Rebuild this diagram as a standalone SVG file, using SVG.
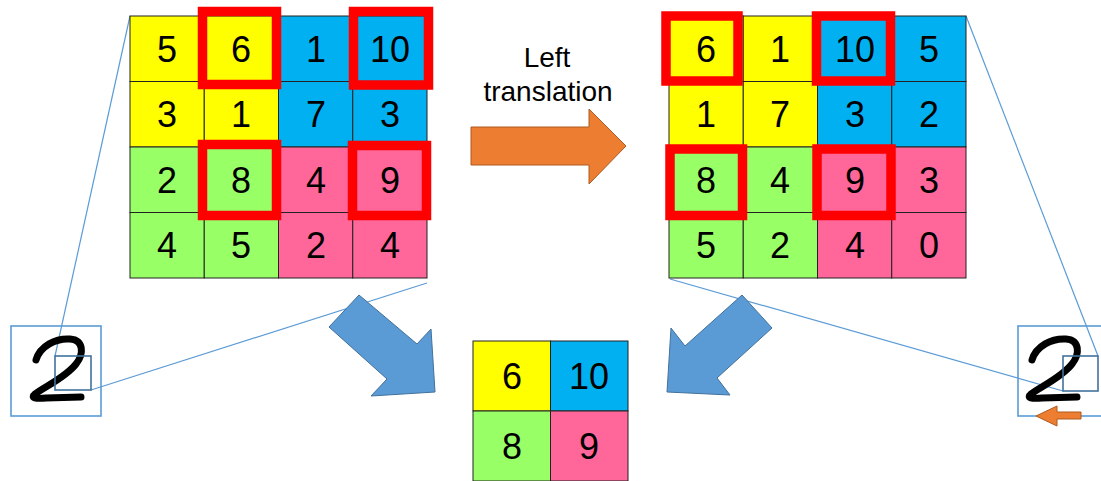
<svg xmlns="http://www.w3.org/2000/svg" width="1101" height="481" viewBox="0 0 1101 481">
  <style>
    .cell { stroke: #222; stroke-width: 1; }
    .y { fill: #FFFF00; }
    .b { fill: #00B0F0; }
    .g { fill: #99FF66; }
    .p { fill: #FF6699; }
    .num { font-family: "Liberation Sans", Arial, sans-serif; font-size: 36px; fill: #000; text-anchor: middle; }
    .lbl { font-family: "Liberation Sans", Arial, sans-serif; font-size: 28px; fill: #000; text-anchor: middle; }
    .hl { fill: none; stroke: #FF0000; stroke-width: 9.5; }
    .zoomline { stroke: #5B9BD5; stroke-width: 1.2; fill: none; }
    .frame { fill: none; stroke: #5B9BD5; stroke-width: 1.6; }
    .patch { fill: none; stroke: #41719C; stroke-width: 1.6; }
    .digit { fill: none; stroke: #000; stroke-width: 7; stroke-linecap: round; stroke-linejoin: round; }
    .bigarrow { fill: #5B9BD5; stroke: #41719C; stroke-width: 1; }
    .shift { fill: #ED7D31; stroke: #AE5A21; stroke-width: 1; }
  </style>
  <defs>
    <path id="two" class="digit" d="M36,360 C40,346 56,338 70,339 C84,340 84,354 76,364 C66,377 46,386 35,394 C30,398 36,399 46,398 L81,397"/>
  </defs>

  <rect width="1101" height="481" fill="#FFFFFF"/>

  <!-- zoom guide lines from the grids to the image patches -->
  <g id="connectors">
    <line class="zoomline" x1="130" y1="16" x2="55" y2="356"/>
    <line class="zoomline" x1="427" y1="283" x2="91" y2="390"/>
    <line class="zoomline" x1="966" y1="16" x2="1098" y2="356"/>
    <line class="zoomline" x1="670" y1="279" x2="1063" y2="391"/>
    <polygon id="arrow-translate" class="shift" points="471,127 589,127 589,109 626,146 589,184 589,165 471,165"/>
    <polygon id="arrow-pool-left" class="bigarrow" points="359,295 417,344 431,329 435,392 371,396 387,379 329,327"/>
    <polygon id="arrow-pool-right" class="bigarrow" points="742,295 772,328 717,378 730,395 667,392 671,328 685,346"/>
  </g>

  <!-- original feature map -->
  <g id="grid-original">
    <rect class="cell y" x="130" y="16" width="74.25" height="65.5"/>
    <rect class="cell y" x="204.25" y="16" width="74.25" height="65.5"/>
    <rect class="cell b" x="278.5" y="16" width="74.25" height="65.5"/>
    <rect class="cell b" x="352.75" y="16" width="74.25" height="65.5"/>
    <rect class="cell y" x="130" y="81.5" width="74.25" height="65.5"/>
    <rect class="cell y" x="204.25" y="81.5" width="74.25" height="65.5"/>
    <rect class="cell b" x="278.5" y="81.5" width="74.25" height="65.5"/>
    <rect class="cell b" x="352.75" y="81.5" width="74.25" height="65.5"/>
    <rect class="cell g" x="130" y="147" width="74.25" height="65.5"/>
    <rect class="cell g" x="204.25" y="147" width="74.25" height="65.5"/>
    <rect class="cell p" x="278.5" y="147" width="74.25" height="65.5"/>
    <rect class="cell p" x="352.75" y="147" width="74.25" height="65.5"/>
    <rect class="cell g" x="130" y="212.5" width="74.25" height="65.5"/>
    <rect class="cell g" x="204.25" y="212.5" width="74.25" height="65.5"/>
    <rect class="cell p" x="278.5" y="212.5" width="74.25" height="65.5"/>
    <rect class="cell p" x="352.75" y="212.5" width="74.25" height="65.5"/>
    <text class="num" x="167" y="62">5</text>
    <text class="num" x="241" y="62">6</text>
    <text class="num" x="316" y="62">1</text>
    <text class="num" x="390" y="62">10</text>
    <text class="num" x="167" y="127">3</text>
    <text class="num" x="241" y="127">1</text>
    <text class="num" x="316" y="127">7</text>
    <text class="num" x="390" y="127">3</text>
    <text class="num" x="167" y="193">2</text>
    <text class="num" x="241" y="193">8</text>
    <text class="num" x="316" y="193">4</text>
    <text class="num" x="390" y="193">9</text>
    <text class="num" x="167" y="258">4</text>
    <text class="num" x="241" y="258">5</text>
    <text class="num" x="316" y="258">2</text>
    <text class="num" x="390" y="258">4</text>
    <rect class="hl" x="202.5" y="11.5" width="74" height="73"/>
    <rect class="hl" x="353.5" y="11.5" width="75" height="73.5"/>
    <rect class="hl" x="202.5" y="144.5" width="74" height="71"/>
    <rect class="hl" x="352.5" y="145.5" width="74" height="70"/>
  </g>

  <!-- translated feature map -->
  <g id="grid-translated">
    <rect class="cell y" x="669" y="16" width="74.25" height="65.5"/>
    <rect class="cell y" x="743.25" y="16" width="74.25" height="65.5"/>
    <rect class="cell b" x="817.5" y="16" width="74.25" height="65.5"/>
    <rect class="cell b" x="891.75" y="16" width="74.25" height="65.5"/>
    <rect class="cell y" x="669" y="81.5" width="74.25" height="65.5"/>
    <rect class="cell y" x="743.25" y="81.5" width="74.25" height="65.5"/>
    <rect class="cell b" x="817.5" y="81.5" width="74.25" height="65.5"/>
    <rect class="cell b" x="891.75" y="81.5" width="74.25" height="65.5"/>
    <rect class="cell g" x="669" y="147" width="74.25" height="65.5"/>
    <rect class="cell g" x="743.25" y="147" width="74.25" height="65.5"/>
    <rect class="cell p" x="817.5" y="147" width="74.25" height="65.5"/>
    <rect class="cell p" x="891.75" y="147" width="74.25" height="65.5"/>
    <rect class="cell g" x="669" y="212.5" width="74.25" height="65.5"/>
    <rect class="cell g" x="743.25" y="212.5" width="74.25" height="65.5"/>
    <rect class="cell p" x="817.5" y="212.5" width="74.25" height="65.5"/>
    <rect class="cell p" x="891.75" y="212.5" width="74.25" height="65.5"/>
    <text class="num" x="706" y="62">6</text>
    <text class="num" x="780" y="62">1</text>
    <text class="num" x="855" y="62">10</text>
    <text class="num" x="929" y="62">5</text>
    <text class="num" x="706" y="127">1</text>
    <text class="num" x="780" y="127">7</text>
    <text class="num" x="855" y="127">3</text>
    <text class="num" x="929" y="127">2</text>
    <text class="num" x="706" y="193">8</text>
    <text class="num" x="780" y="193">4</text>
    <text class="num" x="855" y="193">9</text>
    <text class="num" x="929" y="193">3</text>
    <text class="num" x="706" y="258">5</text>
    <text class="num" x="780" y="258">2</text>
    <text class="num" x="855" y="258">4</text>
    <text class="num" x="929" y="258">0</text>
    <rect class="hl" x="666" y="16" width="72" height="65"/>
    <rect class="hl" x="816.5" y="16" width="74" height="65"/>
    <rect class="hl" x="670" y="149" width="72.5" height="66.5"/>
    <rect class="hl" x="817" y="149" width="74" height="66.5"/>
  </g>

  <!-- pooled result -->
  <g id="grid-pooled">
    <rect class="cell y" x="473" y="341" width="77.5" height="70"/>
    <rect class="cell b" x="550.5" y="341" width="77.5" height="70"/>
    <rect class="cell g" x="473" y="411" width="77.5" height="70"/>
    <rect class="cell p" x="550.5" y="411" width="77.5" height="70"/>
    <text class="num" x="512" y="389">6</text>
    <text class="num" x="589" y="389">10</text>
    <text class="num" x="512" y="459">8</text>
    <text class="num" x="589" y="459">9</text>
  </g>

  <!-- caption over the translation arrow -->
  <g id="label-translation">
    <text class="lbl" x="547" y="67">Left</text>
    <text class="lbl" x="548" y="101">translation</text>
  </g>

  <!-- input digit, original position -->
  <g id="digit-original">
    <use href="#two"/>
    <rect class="frame" x="11" y="326" width="90" height="90"/>
    <rect class="patch" x="55" y="356" width="36" height="34"/>
  </g>

  <!-- input digit, shifted left -->
  <g id="digit-shifted">
    <use href="#two" transform="translate(996,0)"/>
    <rect class="frame" x="1018" y="326" width="90" height="90"/>
    <rect class="patch" x="1063" y="356" width="35" height="35"/>
    <polygon class="shift" points="1081,412 1057,412 1057,406 1036,416 1057,426 1057,419 1081,419"/>
  </g>
</svg>
